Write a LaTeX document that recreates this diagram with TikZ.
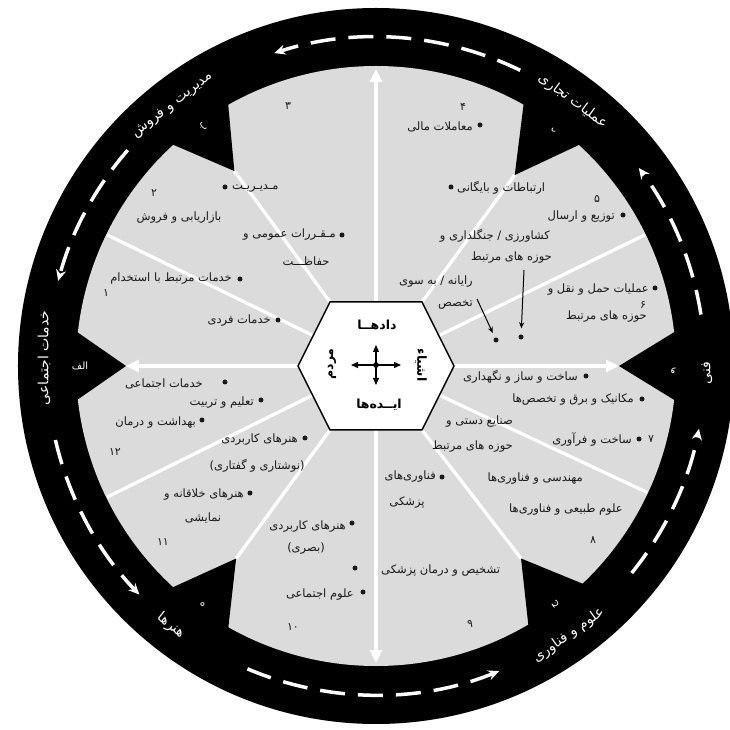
\documentclass[tikz,border=0pt]{standalone}
\usepackage{fontspec}
\usepackage{tikz}
\usetikzlibrary{arrows.meta}
\newfontfamily\farsifont[Script=Arabic]{DejaVu Sans}
\TeXXeTstate=1
\definecolor{wheelgray}{RGB}{219, 219, 219}
\definecolor{inkgray}{RGB}{25, 25, 25}
\newcommand{\fatxt}[1]{\farsifont\beginR #1\endR}

\begin{document}
\begin{tikzpicture}[x=1pt, y=1pt,
    item/.style={font=\fontsize{11.5}{13}\selectfont, text=inkgray, inner sep=0pt},
    num/.style={font=\fontsize{11}{13}\selectfont, text=inkgray, inner sep=0pt},
    ringlabel/.style={font=\fontsize{14}{16}\selectfont, text=white, inner sep=0pt},
    notchletter/.style={font=\fontsize{10}{12}\selectfont, text=white, inner sep=0pt},
    hexlabel/.style={font=\bfseries\fontsize{12.5}{14}\selectfont, inner sep=0pt},
    spoke/.style={white, line width=3.3},
    road/.style={white, line width=3.5, dash pattern=on 25pt off 13pt, -{Stealth[length=11pt, width=10pt]}},
    dot/.style={circle, fill=inkgray, inner sep=0pt, minimum size=5pt}]
  \useasboundingbox (-376,-364) rectangle (354,366);

  % Wheel
  \fill[black] (0,0) circle (358);
  \fill[wheelgray] (0,0) circle (300);

  % Notches
  \foreach \a/\r in {180/250, 126/241, 54/236, 0/243, -53/241, 234/238}{
    \fill[black] (\a:\r) -- (\a+7:306) -- (\a-7:306) -- cycle;
    \coordinate (tip\a) at (\a:\r);
  }

  % Hexagon corners
  \coordinate (hL) at (-78,0);
  \coordinate (hTL) at (-46,64);
  \coordinate (hTR) at (46,64);
  \coordinate (hR) at (78,0);
  \coordinate (hBR) at (46,-64);
  \coordinate (hBL) at (-46,-64);

  % Spokes
  \draw[spoke] (hTL) -- (tip126);
  \draw[spoke] (hTR) -- (tip54);
  \draw[spoke] (hBL) -- (tip234);
  \draw[spoke] (hBR) -- (tip-53);
  \draw[spoke] (-62,30) -- (154:299);
  \draw[spoke] (62,30) -- (26:299);
  \draw[spoke] (-63,-29) -- (206:299);
  \draw[spoke] (63,-29) -- (-25:299);

  % Axes
  \draw[spoke, -{Triangle[length=13pt, width=12pt]}] (0,64) -- (0,297);
  \draw[spoke, -{Triangle[length=13pt, width=12pt]}] (0,-64) -- (0,-297);
  \draw[spoke, -{Triangle[length=13pt, width=12pt]}] (hL) -- (tip180);
  \draw[spoke, -{Triangle[length=13pt, width=12pt]}] (hR) -- (tip0);

  % Hexagon
  \draw[fill=white, line width=1.5] (hL) -- (hTL) -- (hTR) -- (hR) -- (hBR) -- (hBL) -- cycle;
  \coordinate (hc) at (0,1);
  \foreach \dx/\dy in {25/0, -25/0, 0/20, 0/-20}{
    \draw[line width=1.3, -{Triangle[length=7pt, width=6pt]}] (hc) -- ++(\dx,\dy);
  }
  \fill (hc) circle (2.8);
  \node[hexlabel] (data) at (1,41) {\fatxt{دادهــا}};
  \node[hexlabel] (ideas) at (3,-39) {\fatxt{ایــده‌ها}};
  \node[hexlabel, rotate=90] (people) at (-44,2) {\fatxt{مردم}};
  \node[hexlabel, rotate=-90] (things) at (45,1) {\fatxt{اشیاء}};

  % Road
  \foreach \s/\e in {64/108, 139/165, 193/224, 247/292, 321/349, 9/37}{
    \draw[road] (\s:329) arc[start angle=\s, end angle=\e, radius=329];
  }

  % Ring labels
  \node[ringlabel, rotate=38] (admin) at (128:331) {\fatxt{مدیریت و فروش}};
  \node[ringlabel, rotate=-36.6] (business) at (53.4:330) {\fatxt{عملیات تجاری}};
  \node[ringlabel, rotate=90] (social) at (178.6:332) {\fatxt{خدمات اجتماعی}};
  \node[ringlabel, rotate=-38.3] (arts) at (231.7:331) {\fatxt{هنرها}};
  \node[ringlabel, rotate=35.6] (science) at (-54.4:331) {\fatxt{علوم و فناوری}};
  \node[ringlabel, rotate=90] (technical) at (-1.2:331) {\fatxt{فنی}};

  % Notch letters
  \node[notchletter] (la) at (180:296) {\fatxt{الف}};
  \node[notchletter, rotate=-54] (lb) at (126:295) {\fatxt{ب}};
  \node[notchletter, rotate=-127] (ld) at (53:295) {\fatxt{د}};
  \node[notchletter, rotate=180] (lv) at (-1:297) {\fatxt{و}};
  \node[notchletter, rotate=127] (lj) at (-53:298) {\fatxt{ج}};
  \node[notchletter, rotate=54] (lh) at (234:295) {\fatxt{ه}};

  % Sector numbers
  \node[num] (s1) at (-270,73) {\fatxt{۱}};
  \node[num] (s2) at (-222,173) {\fatxt{۲}};
  \node[num] (s3) at (-88,260) {\fatxt{۳}};
  \node[num] (s4) at (87,259) {\fatxt{۴}};
  \node[num] (s5) at (221,167) {\fatxt{۵}};
  \node[num] (s6) at (267,61) {\fatxt{۶}};
  \node[num] (s7) at (275,-73) {\fatxt{۷}};
  \node[num] (s8) at (217,-174) {\fatxt{۸}};
  \node[num] (s9) at (94,-258) {\fatxt{۹}};
  \node[num] (s10) at (-83,-261) {\fatxt{۱۰}};
  \node[num] (s11) at (-213,-176) {\fatxt{۱۱}};
  \node[num] (s12) at (-261,-86) {\fatxt{۱۲}};

  % Upper left items
  \node[dot] (b1) at (-151,179) {};
  \node[item, anchor=west] (mgmt) at (-144,177) {\fatxt{مـدیـریـت}};
  \node[item] (mkt) at (-197,148) {\fatxt{بازاریابی و فروش}};
  \node[dot] (b2) at (-34,131) {};
  \node[item, anchor=east] (regs) at (-40,131) {\fatxt{مـقـررات عمومی و}};
  \node[item] (guard) at (-70,105) {\fatxt{حفاظـــت}};
  \node[dot] (b3) at (-136,87) {};
  \node[item, anchor=east] (employ) at (-144,87) {\fatxt{خدمات مرتبط با استخدام}};
  \node[dot] (b4) at (-98,46) {};
  \node[item, anchor=east] (personal) at (-105,45) {\fatxt{خدمات فردی}};

  % Lower left items
  \node[dot] (b5) at (-151,-16) {};
  \node[item, anchor=east] (socserv) at (-173,-18) {\fatxt{خدمات اجتماعی}};
  \node[dot] (b6) at (-115,-34) {};
  \node[item, anchor=east] (educ) at (-122,-37) {\fatxt{تعلیم و تربیت}};
  \node[dot] (b7) at (-174,-54) {};
  \node[item, anchor=east] (health) at (-180,-57) {\fatxt{بهداشت و درمان}};
  \node[dot] (b8) at (-71,-72) {};
  \node[item, anchor=east] (applied) at (-78,-74) {\fatxt{هنرهای کاربردی}};
  \node[item] (written) at (-119,-100) {\fatxt{(نوشتاری و گفتاری)}};
  \node[dot] (b9) at (-126,-127) {};
  \node[item, anchor=east] (creative) at (-132,-129) {\fatxt{هنرهای خلاقانه و}};
  \node[item] (perform) at (-173,-152) {\fatxt{نمایشی}};

  % Bottom items
  \node[dot] (b10) at (-24,-157) {};
  \node[item, anchor=east] (visual) at (-30,-161) {\fatxt{هنرهای کاربردی}};
  \node[item] (visual2) at (-70,-183) {\fatxt{(بصری)}};
  \node[dot] (b11) at (-21,-202) {};
  \node[item, anchor=west] (diag) at (5,-205) {\fatxt{تشخیص و درمان پزشکی}};
  \node[dot] (b12) at (-13,-226) {};
  \node[item, anchor=east] (socsci) at (-22,-229) {\fatxt{علوم اجتماعی}};
  \node[dot] (b13) at (66,-111) {};
  \node[item, anchor=east] (medtech) at (60,-111) {\fatxt{فناوری‌های}};
  \node[item] (medtech2) at (31,-137) {\fatxt{پزشکی}};

  % Lower right items
  \node[dot] (b14) at (210,-10) {};
  \node[item, anchor=east] (constr) at (202,-11) {\fatxt{ساخت و ساز و نگهداری}};
  \node[dot] (b15) at (266,-33) {};
  \node[item, anchor=east] (mech) at (258,-34) {\fatxt{مکانیک و برق و تخصص‌ها}};
  \node[item, anchor=east] (crafts) at (137,-56) {\fatxt{صنایع دستی و}};
  \node[item, anchor=east] (crafts2) at (137,-81) {\fatxt{حوزه های مرتبط}};
  \node[dot] (b16) at (263,-73) {};
  \node[item, anchor=east] (manuf) at (256,-74) {\fatxt{ساخت و فرآوری}};
  \node[item, anchor=east] (eng) at (207,-113) {\fatxt{مهندسی و فناوری‌ها}};
  \node[item, anchor=east] (natsci) at (247,-144) {\fatxt{علوم طبیعی و فناوری‌ها}};

  % Upper right items
  \node[dot] (b17) at (104,241) {};
  \node[item, anchor=east] (finance) at (97,239) {\fatxt{معاملات مالی}};
  \node[dot] (b18) at (75,179) {};
  \node[item, anchor=west] (comm) at (81,178) {\fatxt{ارتباطات و بایگانی}};
  \node[dot] (b19) at (247,151) {};
  \node[item, anchor=east] (distrib) at (239,149) {\fatxt{توزیع و ارسال}};
  \node[item, anchor=east] (agri) at (174,130) {\fatxt{کشاورزی / جنگلداری و}};
  \node[item, anchor=east] (agri2) at (176,108) {\fatxt{حوزه های مرتبط}};
  \node[item, anchor=east] (comp) at (97,84) {\fatxt{رایانه / به سوی}};
  \node[item, anchor=east] (comp2) at (97,61) {\fatxt{تخصص}};
  \node[dot] (b20) at (279,78) {};
  \node[item, anchor=east] (transp) at (273,76) {\fatxt{عملیات حمل و نقل و}};
  \node[item, anchor=east] (transp2) at (271,49) {\fatxt{حوزه های مرتبط}};

  % Pointers
  \node[dot] (d1) at (120,26) {};
  \node[dot] (d2) at (145,29) {};
  \coordinate (p1) at (101,67);
  \coordinate (p2) at (148,96);
  \draw[line width=1, -{Stealth[length=6pt, width=5pt]}, shorten >=5pt] (p1) -- (d1);
  \draw[line width=1, -{Stealth[length=6pt, width=5pt]}, shorten >=6pt] (p2) -- (d2);
\end{tikzpicture}
\end{document}
